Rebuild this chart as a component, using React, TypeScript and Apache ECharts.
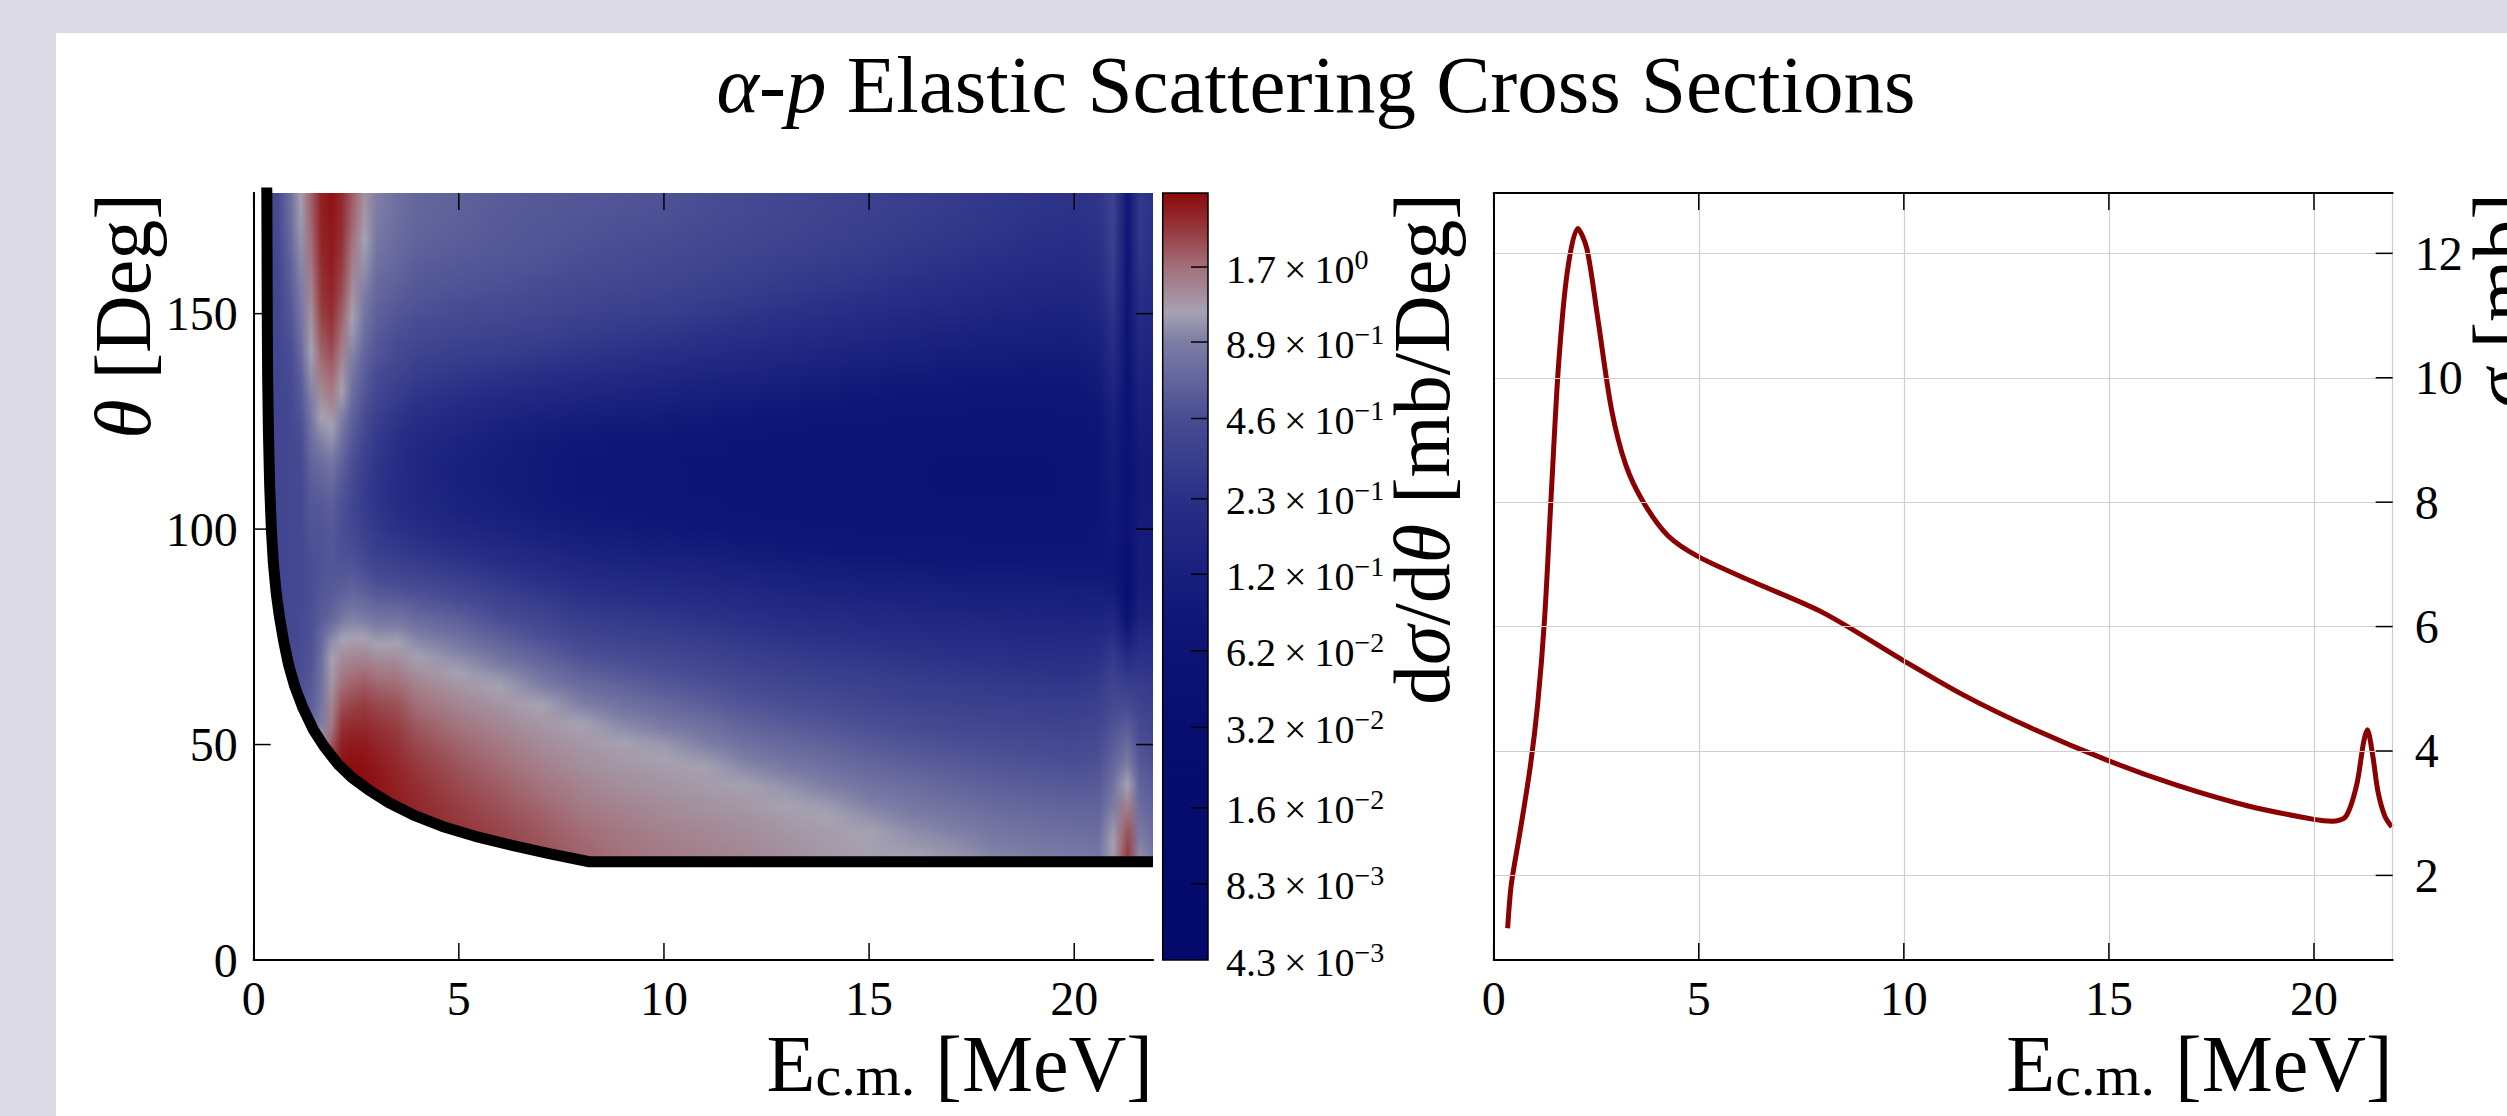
import { useEffect, useRef } from 'react';
import * as echarts from 'echarts';

const FONT = 'Liberation Serif';
const BG = '#dcdbe5';

// ---------- heatmap (left panel): log10 of dσ/dθ [mb/Deg] ----------
const E_COLS = [0.33, 0.6, 0.9, 1.15, 1.4, 1.65, 1.9, 2.15, 2.4, 2.7, 3.0, 3.5, 4, 5, 6, 7, 8, 9, 10, 11, 12, 13, 14, 15, 16, 17, 18, 19, 20, 20.6, 20.95, 21.3, 21.6, 21.92];
const THETA_ROWS = [20, 25, 30, 35, 40, 45, 50, 55, 60, 65, 70, 75, 80, 85, 90, 95, 100, 105, 110, 115, 120, 125, 130, 135, 140, 145, 150, 155, 160, 165, 170, 175, 180];
// one array per energy column, values for THETA_ROWS (log10 of mb/Deg)
const LOG_DSDT = [
  [-0.4, -0.4, -0.4, -0.4, -0.4, -0.4, -0.4, -0.4, -0.4, -0.4, -0.4, -0.4, -0.4, -0.4, -0.4, -0.4, -0.4, -0.4, -0.4, -0.4, -0.4, -0.4, -0.4, -0.4, -0.4, -0.4, -0.4, -0.4, -0.4, -0.4, -0.4, -0.4, -0.4],
  [-0.4, -0.4, -0.4, -0.4, -0.4, -0.4, -0.4, -0.4, -0.4, -0.4, -0.4, -0.4, -0.4, -0.4, -0.4, -0.4, -0.4, -0.4, -0.4, -0.4, -0.4, -0.4, -0.4, -0.4, -0.4, -0.4, -0.4, -0.4, -0.4, -0.38, -0.36, -0.35, -0.35],
  [-0.36, -0.36, -0.36, -0.36, -0.36, -0.36, -0.36, -0.36, -0.36, -0.36, -0.36, -0.37, -0.38, -0.38, -0.38, -0.38, -0.38, -0.38, -0.38, -0.38, -0.38, -0.38, -0.38, -0.36, -0.34, -0.31, -0.28, -0.25, -0.22, -0.19, -0.16, -0.14, -0.13],
  [-0.3, -0.3, -0.3, -0.3, -0.3, -0.3, -0.3, -0.3, -0.3, -0.32, -0.34, -0.36, -0.37, -0.38, -0.38, -0.38, -0.38, -0.38, -0.38, -0.38, -0.35, -0.32, -0.28, -0.24, -0.19, -0.14, -0.1, -0.06, -0.03, 0.0, 0.03, 0.05, 0.06],
  [-0.2, -0.2, -0.2, -0.2, -0.2, -0.2, -0.2, -0.2, -0.24, -0.27, -0.3, -0.31, -0.32, -0.33, -0.33, -0.32, -0.3, -0.28, -0.25, -0.2, -0.15, -0.1, -0.05, 0.0, 0.05, 0.09, 0.12, 0.16, 0.2, 0.23, 0.25, 0.27, 0.27],
  [0.06, 0.06, 0.06, 0.06, 0.06, 0.06, 0.06, -0.05, -0.1, -0.12, -0.14, -0.18, -0.25, -0.28, -0.3, -0.3, -0.3, -0.27, -0.22, -0.15, -0.05, 0.04, 0.12, 0.19, 0.25, 0.3, 0.35, 0.38, 0.4, 0.42, 0.43, 0.44, 0.44],
  [0.35, 0.35, 0.35, 0.35, 0.35, 0.35, 0.3, 0.2, 0.15, 0.1, 0.06, -0.02, -0.2, -0.25, -0.28, -0.28, -0.27, -0.24, -0.18, -0.1, 0.0, 0.08, 0.17, 0.24, 0.3, 0.36, 0.4, 0.43, 0.45, 0.46, 0.47, 0.48, 0.48],
  [0.48, 0.48, 0.48, 0.48, 0.48, 0.48, 0.45, 0.38, 0.3, 0.22, 0.14, 0.05, -0.1, -0.22, -0.28, -0.32, -0.33, -0.32, -0.28, -0.22, -0.14, -0.06, 0.02, 0.1, 0.16, 0.22, 0.27, 0.32, 0.35, 0.38, 0.4, 0.41, 0.42],
  [0.5, 0.5, 0.5, 0.5, 0.5, 0.5, 0.46, 0.4, 0.33, 0.25, 0.16, 0.06, -0.06, -0.18, -0.27, -0.34, -0.38, -0.4, -0.38, -0.34, -0.28, -0.22, -0.16, -0.1, -0.04, 0.02, 0.07, 0.12, 0.17, 0.21, 0.25, 0.27, 0.28],
  [0.5, 0.5, 0.5, 0.5, 0.5, 0.49, 0.46, 0.41, 0.35, 0.27, 0.17, 0.06, -0.08, -0.21, -0.32, -0.41, -0.47, -0.5, -0.5, -0.47, -0.42, -0.36, -0.3, -0.25, -0.2, -0.15, -0.1, -0.05, 0.0, 0.04, 0.08, 0.11, 0.12],
  [0.48, 0.48, 0.48, 0.48, 0.48, 0.46, 0.43, 0.38, 0.32, 0.24, 0.14, 0.02, -0.12, -0.26, -0.38, -0.48, -0.55, -0.59, -0.6, -0.58, -0.54, -0.48, -0.42, -0.36, -0.3, -0.26, -0.22, -0.18, -0.14, -0.1, -0.07, -0.05, -0.04],
  [0.45, 0.45, 0.45, 0.45, 0.44, 0.42, 0.39, 0.35, 0.3, 0.22, 0.13, 0.03, -0.12, -0.28, -0.42, -0.53, -0.62, -0.68, -0.7, -0.69, -0.66, -0.6, -0.52, -0.45, -0.38, -0.33, -0.28, -0.24, -0.2, -0.17, -0.15, -0.13, -0.13],
  [0.43, 0.43, 0.43, 0.42, 0.4, 0.37, 0.33, 0.28, 0.22, 0.15, 0.07, -0.04, -0.18, -0.31, -0.45, -0.58, -0.68, -0.75, -0.78, -0.78, -0.75, -0.68, -0.6, -0.52, -0.45, -0.38, -0.32, -0.28, -0.25, -0.22, -0.2, -0.19, -0.18],
  [0.39, 0.39, 0.38, 0.36, 0.33, 0.3, 0.26, 0.21, 0.15, 0.09, 0.0, -0.12, -0.25, -0.38, -0.52, -0.66, -0.78, -0.86, -0.9, -0.9, -0.86, -0.78, -0.68, -0.58, -0.5, -0.42, -0.36, -0.31, -0.28, -0.25, -0.23, -0.22, -0.21],
  [0.35, 0.35, 0.34, 0.31, 0.28, 0.24, 0.2, 0.15, 0.1, 0.04, -0.1, -0.23, -0.35, -0.47, -0.6, -0.73, -0.85, -0.94, -0.98, -0.98, -0.95, -0.86, -0.75, -0.63, -0.52, -0.45, -0.38, -0.33, -0.3, -0.27, -0.26, -0.25, -0.24],
  [0.31, 0.31, 0.29, 0.26, 0.22, 0.18, 0.14, 0.1, 0.05, -0.08, -0.2, -0.32, -0.43, -0.55, -0.68, -0.8, -0.93, -1.02, -1.05, -1.05, -1.02, -0.93, -0.8, -0.68, -0.56, -0.48, -0.41, -0.36, -0.32, -0.29, -0.28, -0.27, -0.26],
  [0.27, 0.26, 0.24, 0.2, 0.17, 0.13, 0.1, 0.06, -0.06, -0.18, -0.3, -0.41, -0.52, -0.63, -0.75, -0.88, -1.0, -1.07, -1.1, -1.1, -1.07, -0.98, -0.85, -0.72, -0.6, -0.52, -0.45, -0.39, -0.35, -0.32, -0.3, -0.28, -0.27],
  [0.23, 0.22, 0.2, 0.17, 0.13, 0.1, 0.07, -0.02, -0.13, -0.24, -0.34, -0.45, -0.55, -0.67, -0.79, -0.92, -1.03, -1.1, -1.13, -1.13, -1.1, -1.0, -0.88, -0.75, -0.64, -0.55, -0.48, -0.42, -0.37, -0.34, -0.32, -0.3, -0.29],
  [0.2, 0.19, 0.17, 0.14, 0.11, 0.08, 0.03, -0.08, -0.19, -0.29, -0.38, -0.48, -0.58, -0.7, -0.82, -0.95, -1.06, -1.13, -1.16, -1.16, -1.12, -1.03, -0.92, -0.8, -0.68, -0.58, -0.5, -0.44, -0.4, -0.36, -0.33, -0.31, -0.3],
  [0.18, 0.17, 0.15, 0.12, 0.09, 0.06, -0.04, -0.14, -0.24, -0.33, -0.42, -0.52, -0.62, -0.73, -0.85, -0.98, -1.09, -1.16, -1.19, -1.19, -1.15, -1.06, -0.95, -0.84, -0.72, -0.62, -0.54, -0.47, -0.43, -0.39, -0.36, -0.34, -0.33],
  [0.16, 0.15, 0.13, 0.1, 0.07, -0.02, -0.12, -0.21, -0.3, -0.38, -0.47, -0.56, -0.66, -0.77, -0.89, -1.01, -1.12, -1.19, -1.22, -1.22, -1.18, -1.1, -0.99, -0.88, -0.76, -0.66, -0.58, -0.51, -0.46, -0.42, -0.39, -0.37, -0.36],
  [0.13, 0.12, 0.1, 0.07, 0.02, -0.08, -0.17, -0.26, -0.34, -0.42, -0.51, -0.6, -0.7, -0.81, -0.93, -1.05, -1.15, -1.21, -1.24, -1.24, -1.21, -1.13, -1.03, -0.92, -0.8, -0.7, -0.62, -0.55, -0.5, -0.45, -0.42, -0.4, -0.39],
  [0.1, 0.09, 0.08, 0.05, -0.04, -0.13, -0.21, -0.29, -0.37, -0.45, -0.54, -0.63, -0.73, -0.84, -0.96, -1.08, -1.17, -1.23, -1.25, -1.25, -1.23, -1.16, -1.07, -0.96, -0.85, -0.74, -0.66, -0.58, -0.53, -0.48, -0.45, -0.43, -0.42],
  [0.08, 0.07, 0.06, -0.02, -0.1, -0.18, -0.26, -0.33, -0.41, -0.48, -0.56, -0.65, -0.76, -0.87, -0.99, -1.1, -1.19, -1.24, -1.26, -1.26, -1.24, -1.18, -1.1, -1.0, -0.89, -0.79, -0.7, -0.62, -0.56, -0.51, -0.48, -0.46, -0.45],
  [0.06, 0.05, 0.0, -0.07, -0.14, -0.22, -0.29, -0.36, -0.44, -0.51, -0.59, -0.68, -0.78, -0.89, -1.01, -1.12, -1.2, -1.25, -1.27, -1.27, -1.25, -1.19, -1.12, -1.03, -0.93, -0.83, -0.74, -0.66, -0.6, -0.55, -0.51, -0.49, -0.48],
  [0.03, 0.02, -0.04, -0.11, -0.18, -0.25, -0.32, -0.39, -0.46, -0.53, -0.61, -0.7, -0.8, -0.91, -1.02, -1.13, -1.21, -1.26, -1.28, -1.28, -1.26, -1.2, -1.14, -1.05, -0.96, -0.87, -0.78, -0.7, -0.64, -0.58, -0.54, -0.52, -0.51],
  [-0.02, -0.03, -0.09, -0.15, -0.22, -0.28, -0.34, -0.41, -0.48, -0.55, -0.63, -0.72, -0.82, -0.92, -1.03, -1.14, -1.21, -1.26, -1.28, -1.28, -1.26, -1.21, -1.15, -1.07, -0.98, -0.9, -0.82, -0.74, -0.68, -0.62, -0.58, -0.56, -0.55],
  [-0.05, -0.06, -0.12, -0.18, -0.24, -0.3, -0.36, -0.43, -0.5, -0.57, -0.65, -0.74, -0.84, -0.94, -1.05, -1.15, -1.22, -1.27, -1.28, -1.28, -1.26, -1.21, -1.15, -1.08, -1.0, -0.92, -0.85, -0.78, -0.71, -0.66, -0.62, -0.59, -0.58],
  [-0.07, -0.08, -0.14, -0.2, -0.26, -0.32, -0.38, -0.44, -0.51, -0.58, -0.66, -0.75, -0.85, -0.95, -1.05, -1.15, -1.21, -1.26, -1.27, -1.27, -1.25, -1.2, -1.14, -1.07, -1.0, -0.93, -0.86, -0.79, -0.73, -0.68, -0.64, -0.61, -0.6],
  [-0.08, -0.09, -0.15, -0.2, -0.25, -0.3, -0.35, -0.41, -0.47, -0.54, -0.62, -0.72, -0.84, -0.95, -1.05, -1.12, -1.16, -1.2, -1.21, -1.21, -1.19, -1.14, -1.08, -1.01, -0.94, -0.87, -0.8, -0.74, -0.69, -0.65, -0.61, -0.59, -0.58],
  [0.1, 0.08, 0.03, -0.04, -0.11, -0.18, -0.25, -0.31, -0.37, -0.44, -0.52, -0.64, -0.8, -0.97, -1.08, -1.08, -1.05, -1.03, -1.01, -0.99, -0.96, -0.92, -0.86, -0.79, -0.72, -0.66, -0.6, -0.55, -0.51, -0.48, -0.46, -0.45, -0.45],
  [0.38, 0.36, 0.3, 0.2, 0.08, -0.04, -0.15, -0.26, -0.38, -0.52, -0.7, -0.95, -1.3, -1.5, -1.45, -1.35, -1.3, -1.3, -1.3, -1.3, -1.3, -1.3, -1.3, -1.28, -1.26, -1.24, -1.22, -1.2, -1.19, -1.18, -1.17, -1.16, -1.16],
  [0.0, -0.01, -0.08, -0.14, -0.2, -0.26, -0.32, -0.38, -0.45, -0.52, -0.6, -0.72, -0.86, -0.97, -1.0, -1.0, -1.0, -1.02, -1.04, -1.04, -1.0, -0.95, -0.9, -0.85, -0.8, -0.75, -0.7, -0.65, -0.6, -0.57, -0.55, -0.55, -0.55],
  [-0.08, -0.09, -0.15, -0.2, -0.25, -0.3, -0.36, -0.42, -0.48, -0.55, -0.63, -0.74, -0.86, -0.95, -0.98, -0.99, -1.0, -1.01, -1.02, -1.02, -1.0, -0.97, -0.95, -0.9, -0.85, -0.8, -0.75, -0.71, -0.68, -0.65, -0.63, -0.62, -0.62],
];

// kinematic lower limit of the map (black curve)
const CURVE_E = [0.31, 0.32, 0.325, 0.33, 0.34, 0.36, 0.39, 0.43, 0.48, 0.55, 0.63, 0.73, 0.85, 1.0, 1.2, 1.45, 1.73, 2.05, 2.4, 2.8, 3.3, 3.9, 4.6, 5.4, 6.3, 7.2, 8.18, 21.92];
const CURVE_THETA = [185, 178, 165, 150, 135, 122, 110, 100, 92, 85, 79.5, 74, 68.5, 63.5, 58.5, 53.5, 49.4, 45.5, 42.3, 39.5, 36.5, 33.6, 31, 28.7, 26.6, 24.7, 22.8, 22.8];

// colour bar ticks
const CB_MANT = ['4.3', '8.3', '1.6', '3.2', '6.2', '1.2', '2.3', '4.6', '8.9', '1.7'];
const CB_EXP = [-3, -3, -2, -2, -2, -1, -1, -1, -1, 0];
const CB_TOP_VALUE = 3.22;

// colour map (log10 value -> rgb)
const CMAP_LOG = [-2.37, -1.5, -1.1, -0.9, -0.63, -0.34, -0.05, 0.06, 0.23, 0.36, 0.51];
const CMAP_RGB = [[4, 10, 108], [8, 14, 112], [16, 22, 118], [25, 32, 125], [42, 48, 135], [72, 76, 147], [125, 125, 165], [165, 162, 178], [163, 112, 122], [150, 60, 65], [140, 8, 10]];

// ---------- right panel: total cross section ----------
const SIGMA_E = [0.34, 0.43, 0.63, 0.89, 1.07, 1.24, 1.41, 1.58, 1.79, 2.05, 2.27, 2.53, 2.87, 3.22, 3.65, 4.25, 5.0, 6.32, 8.04, 10.0, 11.48, 13.2, 15.0, 16.65, 18.37, 20.0, 20.44, 20.78, 21.04, 21.21, 21.3, 21.43, 21.56, 21.73, 21.9];
const SIGMA_MB = [1.15, 1.86, 2.65, 3.74, 4.74, 6.12, 8.21, 10.19, 11.68, 12.4, 12.08, 10.99, 9.5, 8.6, 8.0, 7.46, 7.12, 6.72, 6.22, 5.45, 4.89, 4.34, 3.84, 3.45, 3.12, 2.9, 2.87, 2.95, 3.45, 4.14, 4.34, 3.94, 3.35, 2.95, 2.78];

const E_TICKS = [0, 5, 10, 15, 20];
const THETA_TICKS = [0, 50, 100, 150];
const SIGMA_TICKS = [2, 4, 6, 8, 10, 12];

const E_MAX = 21.92;
const THETA_MAX = 178;
const SIGMA_MIN = 0.64;
const SIGMA_MAX = 12.97;
const STRIPS = 8;
const TICK_LEN = 17;

function colorOf(v: number): string {
  const n = CMAP_LOG.length;
  if (v <= CMAP_LOG[0]) return `rgb(${CMAP_RGB[0].join(',')})`;
  if (v >= CMAP_LOG[n - 1]) return `rgb(${CMAP_RGB[n - 1].join(',')})`;
  for (let k = 0; k < n - 1; k++) {
    if (v >= CMAP_LOG[k] && v <= CMAP_LOG[k + 1]) {
      const t = (v - CMAP_LOG[k]) / (CMAP_LOG[k + 1] - CMAP_LOG[k]);
      const a = CMAP_RGB[k];
      const b = CMAP_RGB[k + 1];
      const c = a.map((x, q) => Math.round(x + (b[q] - x) * t));
      return `rgb(${c.join(',')})`;
    }
  }
  return '#000';
}

const CB_VALUES = CB_MANT.map((m, i) => parseFloat(m) * Math.pow(10, CB_EXP[i]));
const CB_LOGS = CB_VALUES.map((v) => Math.log10(v));
const CB_MIN = CB_LOGS[0] - 1e-9;
const CB_MAX = Math.log10(CB_TOP_VALUE);

const lineStyleAx = { show: true, lineStyle: { color: '#000', width: 2 } };
const labelBase = { fontFamily: FONT, fontSize: 48, color: '#000' };
const noTick = { show: false };
const tickLine = (x1: number, y1: number, x2: number, y2: number) => ({
  type: 'line',
  shape: { x1, y1, x2, y2 },
  style: { stroke: '#000', lineWidth: 1.5 },
});

export default function App() {
  const ref = useRef<HTMLDivElement>(null);
  useEffect(() => {
    document.body.style.margin = '0';
    const chart = echarts.init(ref.current!, null, { renderer: 'svg' });
    const nR = THETA_ROWS.length;
    const nC = E_COLS.length;

    // shade the band between two neighbouring angle rows
    const bandItem = (params: any, api: any) => {
      const i = params.dataIndex;
      const t0 = THETA_ROWS[i];
      const t1 = THETA_ROWS[i + 1];
      const children: any[] = [];
      for (let k = 0; k < STRIPS; k++) {
        const lo = t0 + ((t1 - t0) * k) / STRIPS;
        const hi = t0 + ((t1 - t0) * (k + 1)) / STRIPS;
        const f = (k + 0.5) / STRIPS;
        const p0 = api.coord([E_COLS[0], hi]);
        const p1 = api.coord([E_COLS[nC - 1], lo]);
        const stops = E_COLS.map((e, j) => ({
          offset: (e - E_COLS[0]) / (E_COLS[nC - 1] - E_COLS[0]),
          color: colorOf(LOG_DSDT[j][i] * (1 - f) + LOG_DSDT[j][i + 1] * f),
        }));
        children.push({
          type: 'rect',
          shape: { x: p0[0], y: p0[1] - 0.5, width: p1[0] - p0[0], height: p1[1] - p0[1] + 1 },
          style: { fill: new echarts.graphic.LinearGradient(0, 0, 1, 0, stops) },
        });
      }
      return { type: 'group', children };
    };

    // inward tick marks of the heat-map frame
    const heatTicks = (_p: any, api: any) => {
      const ch: any[] = [];
      E_TICKS.forEach((e) => {
        const b = api.coord([e, 0]);
        const t = api.coord([e, THETA_MAX]);
        ch.push(tickLine(b[0], b[1], b[0], b[1] - TICK_LEN));
        ch.push(tickLine(t[0], t[1], t[0], t[1] + TICK_LEN));
      });
      THETA_TICKS.forEach((th) => {
        const l = api.coord([0, th]);
        const r = api.coord([E_MAX, th]);
        ch.push(tickLine(l[0], l[1], l[0] + TICK_LEN, l[1]));
        ch.push(tickLine(r[0], r[1], r[0] - TICK_LEN, r[1]));
      });
      return { type: 'group', children: ch };
    };

    // inward tick marks of the cross-section frame
    const sigmaTicks = (_p: any, api: any) => {
      const ch: any[] = [];
      E_TICKS.forEach((e) => {
        const b = api.coord([e, SIGMA_MIN]);
        const t = api.coord([e, SIGMA_MAX]);
        ch.push(tickLine(b[0], b[1], b[0], b[1] - TICK_LEN));
        ch.push(tickLine(t[0], t[1], t[0], t[1] + TICK_LEN));
      });
      SIGMA_TICKS.forEach((s) => {
        const r = api.coord([E_MAX, s]);
        ch.push(tickLine(r[0], r[1], r[0] - TICK_LEN, r[1]));
      });
      return { type: 'group', children: ch };
    };

    const cbItem = (_params: any, api: any) => {
      const p0 = api.coord([0, CB_MAX]);
      const p1 = api.coord([1, CB_MIN]);
      const stops = [];
      for (let k = CMAP_LOG.length - 1; k >= 0; k--) {
        const off = (CB_MAX - CMAP_LOG[k]) / (CB_MAX - CB_MIN);
        stops.push({ offset: Math.min(1, Math.max(0, off)), color: `rgb(${CMAP_RGB[k].join(',')})` });
      }
      const ch: any[] = [
        {
          type: 'rect',
          shape: { x: p0[0], y: p0[1], width: p1[0] - p0[0], height: p1[1] - p0[1] },
          style: { fill: new echarts.graphic.LinearGradient(0, 0, 0, 1, stops), stroke: '#000', lineWidth: 1.5 },
        },
      ];
      CB_LOGS.forEach((l, i) => {
        if (i === 0) return;
        const r = api.coord([1, l]);
        ch.push(tickLine(r[0], r[1], r[0] - TICK_LEN, r[1]));
      });
      return { type: 'group', children: ch };
    };

    const cbFormatter = (v: number) => {
      let best = 0;
      CB_LOGS.forEach((l, i) => {
        if (Math.abs(l - v) < Math.abs(CB_LOGS[best] - v)) best = i;
      });
      const e = CB_EXP[best];
      const es = e < 0 ? '\u2212' + Math.abs(e) : String(e);
      return `{m|${CB_MANT[best]}\u2009\u00d7\u200910}{e|${es}}`;
    };

    const rt = (size: number) => ({
      n: { fontFamily: FONT, fontSize: size, lineHeight: size, verticalAlign: 'bottom' },
      i: { fontFamily: FONT, fontSize: size, fontStyle: 'italic', lineHeight: size, verticalAlign: 'bottom' },
      s: { fontFamily: FONT, fontSize: Math.round(size * 0.72), lineHeight: 37, verticalAlign: 'bottom' },
    });

    const option: any = {
      animation: false,
      backgroundColor: '#ffffff',
      textStyle: { fontFamily: FONT },
      grid: [
        { left: 253.7, top: 193, width: 899.3, height: 767 },
        { left: 1162.7, top: 193, width: 45.3, height: 767 },
        { left: 1493.7, top: 193, width: 899, height: 767 },
      ],
      xAxis: [
        {
          gridIndex: 0, type: 'value', min: 0, max: E_MAX, position: 'bottom', z: 10,
          axisLine: lineStyleAx, axisTick: noTick,
          axisLabel: { ...labelBase, margin: 14, customValues: E_TICKS }, splitLine: { show: false },
        },
        {
          gridIndex: 0, type: 'value', min: 0, max: E_MAX, position: 'top', z: 10,
          axisLine: lineStyleAx, axisTick: noTick, axisLabel: { show: false }, splitLine: { show: false },
        },
        { gridIndex: 1, type: 'value', min: 0, max: 1, show: false },
        {
          gridIndex: 2, type: 'value', min: 0, max: E_MAX, interval: 5, position: 'bottom', z: 10,
          axisLine: lineStyleAx, axisTick: noTick,
          axisLabel: { ...labelBase, margin: 14, customValues: E_TICKS },
          splitLine: { show: true, lineStyle: { color: '#cfcfcf', width: 1.2 } },
        },
        {
          gridIndex: 2, type: 'value', min: 0, max: E_MAX, position: 'top', z: 10,
          axisLine: lineStyleAx, axisTick: noTick, axisLabel: { show: false }, splitLine: { show: false },
        },
      ],
      yAxis: [
        {
          gridIndex: 0, type: 'value', min: 0, max: THETA_MAX, position: 'left', z: 10,
          axisLine: lineStyleAx, axisTick: noTick,
          axisLabel: { ...labelBase, margin: 16, customValues: THETA_TICKS }, splitLine: { show: false },
        },
        {
          gridIndex: 0, type: 'value', min: 0, max: THETA_MAX, position: 'right', z: 10,
          axisLine: lineStyleAx, axisTick: noTick, axisLabel: { show: false }, splitLine: { show: false },
        },
        {
          gridIndex: 1, type: 'value', min: CB_MIN, max: CB_MAX, position: 'right', z: 10,
          axisLine: { show: false }, axisTick: noTick,
          axisLabel: {
            customValues: CB_LOGS, margin: 18, formatter: cbFormatter, color: '#000',
            rich: {
              m: { fontFamily: FONT, fontSize: 40, lineHeight: 44, verticalAlign: 'bottom' },
              e: { fontFamily: FONT, fontSize: 28, lineHeight: 24, verticalAlign: 'top' },
            },
          },
          splitLine: { show: false },
        },
        {
          gridIndex: 2, type: 'value', min: SIGMA_MIN, max: SIGMA_MAX, splitNumber: 6, position: 'right', z: 10,
          axisLine: lineStyleAx, axisTick: noTick,
          axisLabel: { ...labelBase, margin: 22, customValues: SIGMA_TICKS },
          splitLine: { show: true, lineStyle: { color: '#cfcfcf', width: 1.2 } },
        },
        {
          gridIndex: 2, type: 'value', min: SIGMA_MIN, max: SIGMA_MAX, position: 'left', z: 10,
          axisLine: lineStyleAx, axisTick: noTick, axisLabel: { show: false }, splitLine: { show: false },
        },
      ],
      series: [
        {
          type: 'custom', xAxisIndex: 0, yAxisIndex: 0, clip: true, z: 1,
          encode: { x: 0, y: 1 },
          data: THETA_ROWS.slice(0, nR - 1).map((t, i) => [E_COLS[0], t, i]),
          renderItem: bandItem,
        },
        {
          type: 'line', xAxisIndex: 0, yAxisIndex: 0, z: 3, clip: true,
          data: CURVE_E.map((e, i) => [e, CURVE_THETA[i]]),
          showSymbol: false, symbol: 'none', smooth: false,
          lineStyle: { color: '#000', width: 11, join: 'round' },
          areaStyle: { color: '#ffffff', opacity: 1, origin: 'start' },
        },
        {
          type: 'custom', xAxisIndex: 0, yAxisIndex: 0, clip: false, z: 12,
          encode: { x: 0, y: 1 }, data: [[0, 0]], renderItem: heatTicks,
        },
        {
          type: 'custom', xAxisIndex: 2, yAxisIndex: 2, clip: false, z: 1,
          encode: { x: 0, y: 1 }, data: [[0.5, 0]], renderItem: cbItem,
        },
        {
          type: 'line', xAxisIndex: 3, yAxisIndex: 3, z: 3, clip: true,
          data: SIGMA_E.map((e, i) => [e, SIGMA_MB[i]]),
          showSymbol: false, symbol: 'none', smooth: 0.3,
          lineStyle: { color: '#8b0000', width: 5 },
        },
        {
          type: 'custom', xAxisIndex: 3, yAxisIndex: 3, clip: false, z: 12,
          encode: { x: 0, y: 1 }, data: [[0, 2]], renderItem: sigmaTicks,
        },
      ],
      graphic: [
        { type: 'rect', silent: true, shape: { x: 0, y: 0, width: 2507, height: 33 }, style: { fill: BG } },
        { type: 'rect', silent: true, shape: { x: 0, y: 0, width: 56, height: 1116 }, style: { fill: BG } },
        {
          type: 'text', x: 1316, y: 125,
          style: {
            text: '{i|α}{n|-}{i|p}{n| Elastic Scattering Cross Sections}',
            rich: rt(81), fontFamily: FONT, fontSize: 81, fill: '#000',
            align: 'center', verticalAlign: 'bottom', textAlign: 'center', textVerticalAlign: 'bottom',
          },
        },
        {
          type: 'text', x: 1153, y: 1104,
          style: {
            text: '{n|E}{s|c.m.}{n| [MeV]}', rich: rt(80), fontFamily: FONT, fontSize: 80, fill: '#000',
            align: 'right', verticalAlign: 'bottom', textAlign: 'right', textVerticalAlign: 'bottom',
          },
        },
        {
          type: 'text', x: 2392.7, y: 1104,
          style: {
            text: '{n|E}{s|c.m.}{n| [MeV]}', rich: rt(80), fontFamily: FONT, fontSize: 80, fill: '#000',
            align: 'right', verticalAlign: 'bottom', textAlign: 'right', textVerticalAlign: 'bottom',
          },
        },
        {
          type: 'text', x: 163, y: 193, rotation: Math.PI / 2,
          style: {
            text: '{i|θ}{n| [Deg]}', rich: rt(80), fontFamily: FONT, fontSize: 80, fill: '#000',
            align: 'right', verticalAlign: 'bottom', textAlign: 'right', textVerticalAlign: 'bottom',
          },
        },
        {
          type: 'text', x: 1462, y: 193, rotation: Math.PI / 2,
          style: {
            text: '{n|d}{i|σ}{n|/d}{i|θ}{n| [mb/Deg]}', rich: rt(80), fontFamily: FONT, fontSize: 80, fill: '#000',
            align: 'right', verticalAlign: 'bottom', textAlign: 'right', textVerticalAlign: 'bottom',
          },
        },
        {
          type: 'text', x: 2541, y: 193, rotation: Math.PI / 2,
          style: {
            text: '{i|σ}{n| [mb]}', rich: rt(80), fontFamily: FONT, fontSize: 80, fill: '#000',
            align: 'right', verticalAlign: 'bottom', textAlign: 'right', textVerticalAlign: 'bottom',
          },
        },
      ],
    };
    chart.setOption(option);
    return () => chart.dispose();
  }, []);
  return <div ref={ref} style={{ position: 'fixed', left: 0, top: 0, width: 2507, height: 1116 }} />;
}
